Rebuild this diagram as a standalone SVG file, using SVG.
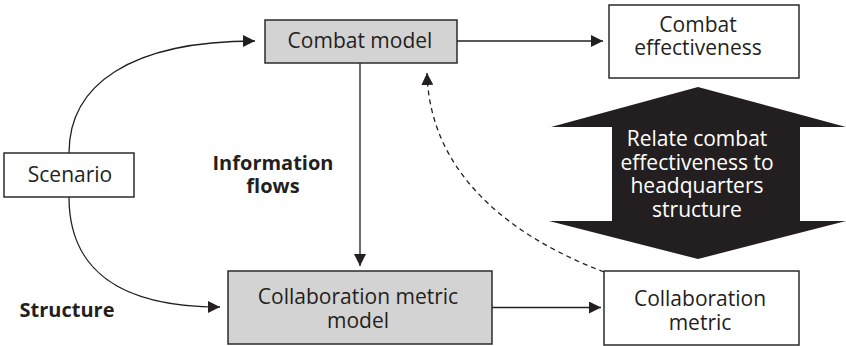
<svg xmlns="http://www.w3.org/2000/svg" width="846" height="346" viewBox="0 0 846 346">
<style>
.box{stroke:#2b2b2b;stroke-width:1.5}
.w{fill:#fff}
.g{fill:#d3d3d3}
.t{font-family:"Open Sans","Liberation Sans",sans-serif;font-size:21px;fill:#231f20;text-anchor:middle}
.b{font-family:"Open Sans","Liberation Sans",sans-serif;font-size:20px;font-weight:bold;fill:#231f20;text-anchor:middle}
.wt{fill:#fff}
.c{fill:none;stroke:#231f20;stroke-width:1.3}
.d{stroke-dasharray:5,4}
</style>
<defs>
<marker id="ah" markerUnits="userSpaceOnUse" markerWidth="14" markerHeight="12" refX="12" refY="6" orient="auto">
<path d="M0,0 L12,6 L0,12 Z" fill="#231f20"/>
</marker>
</defs>
<g id="connectors">
<path class="c" d="M69,153 C69,85 130,41 255,41" marker-end="url(#ah)"/>
<path class="c" d="M69,197 C69,270 120,307 220,307" marker-end="url(#ah)"/>
<path class="c" d="M457,41 L603,41" marker-end="url(#ah)"/>
<path class="c" d="M360,63 L360,266" marker-end="url(#ah)"/>
<path class="c" d="M492,307.5 L601,307.5" marker-end="url(#ah)"/>
<path class="c d" d="M604,272 C520,240 430,180 427,73" marker-end="url(#ah)"/>
</g>
<g id="combat-model">
<rect class="box g" x="265" y="20" width="192" height="43"/>
<text class="t" x="360" y="48">Combat model</text>
</g>
<g id="combat-effectiveness">
<rect class="box w" x="609" y="5" width="190" height="73"/>
<text class="t" x="698" y="32">Combat</text>
<text class="t" x="698" y="55">effectiveness</text>
</g>
<g id="scenario">
<rect class="box w" x="4" y="153" width="130" height="44"/>
<text class="t" x="70" y="182">Scenario</text>
</g>
<g id="collaboration-metric-model">
<rect class="box g" x="228" y="271" width="264" height="73"/>
<text class="t" x="358" y="304">Collaboration metric</text>
<text class="t" x="358" y="328">model</text>
</g>
<g id="collaboration-metric">
<rect class="box w" x="604" y="271" width="195" height="74"/>
<text class="t" x="700" y="306">Collaboration</text>
<text class="t" x="700" y="330">metric</text>
</g>
<g id="relate-arrow">
<polygon points="698,87 846,127 800,127 800,221 846,221 698,259 549,221 612,221 612,127 551,127" fill="#231f20"/>
<text class="t wt" x="697" y="146">Relate combat</text>
<text class="t wt" x="697" y="170">effectiveness to</text>
<text class="t wt" x="697" y="193">headquarters</text>
<text class="t wt" x="697" y="217">structure</text>
</g>
<g id="label-information-flows">
<text class="b" x="273" y="170">Information</text>
<text class="b" x="273" y="193">flows</text>
</g>
<g id="label-structure">
<text class="b" x="67" y="317">Structure</text>
</g>
</svg>
